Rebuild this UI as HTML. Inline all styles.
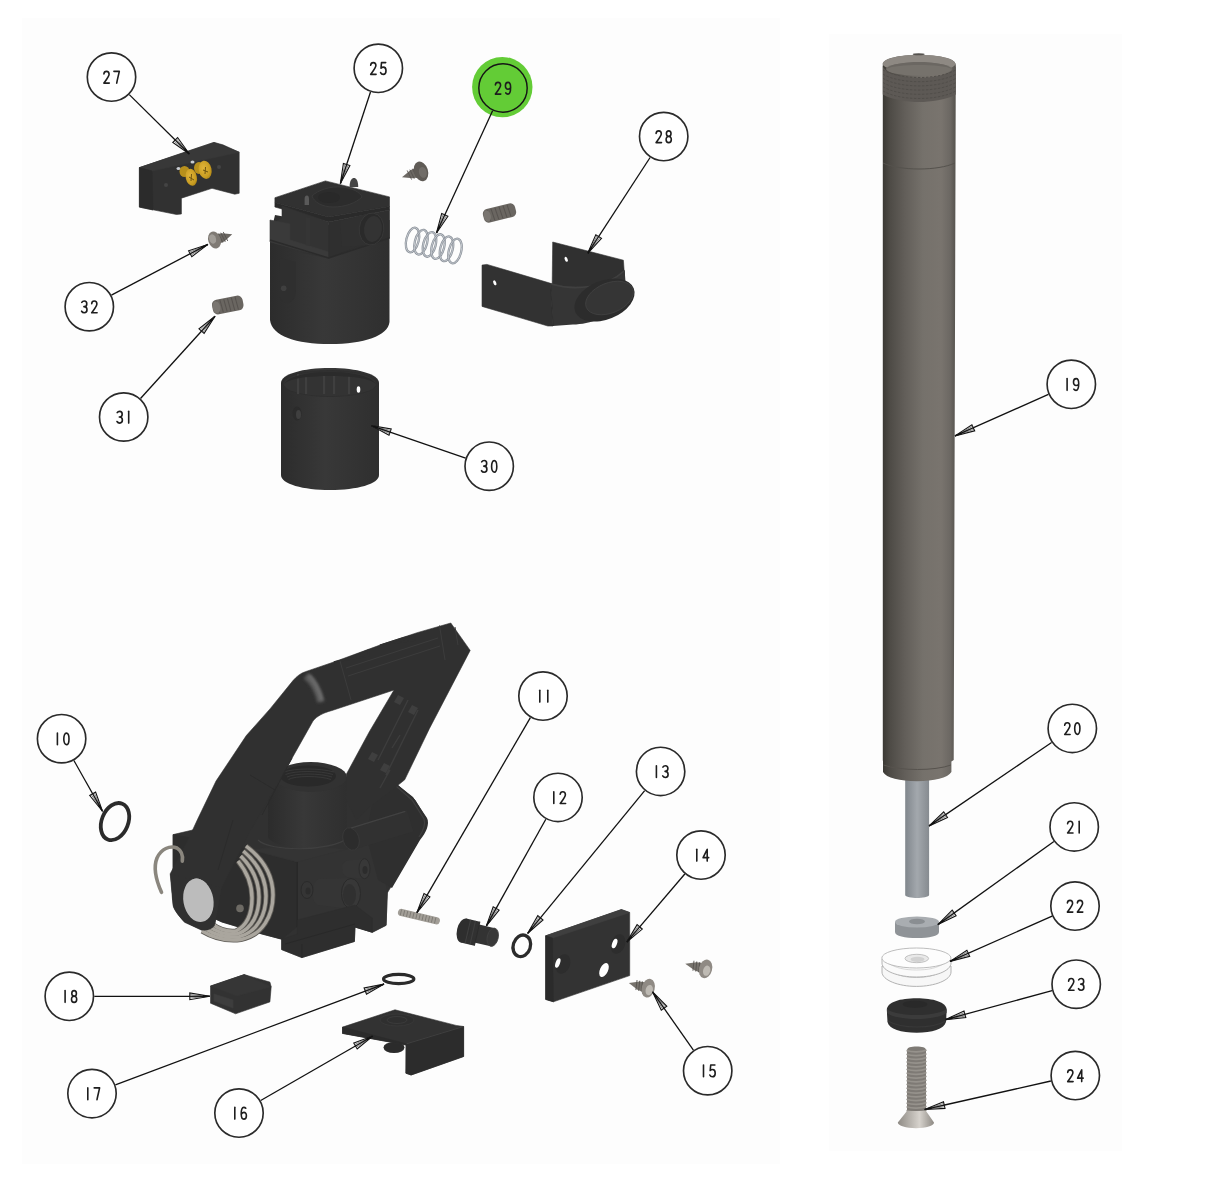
<!DOCTYPE html>
<html><head><meta charset="utf-8"><style>
html,body{margin:0;padding:0;background:#fff;width:1214px;height:1185px;overflow:hidden;font-family:"Liberation Sans",sans-serif;}
svg{display:block;filter:blur(0.35px)}
</style></head><body>
<svg width="1214" height="1185" viewBox="0 0 1214 1185">
<rect x="0" y="0" width="1214" height="1185" fill="#fff"/>
<rect x="22" y="18" width="758" height="1146" fill="#fdfdfd"/>
<rect x="829" y="34" width="293" height="1117" fill="#fdfdfd"/>
<defs><filter id="blr" x="-50%" y="-50%" width="200%" height="200%"><feGaussianBlur stdDeviation="1.8"/></filter><radialGradient id="gold" cx="0.4" cy="0.4" r="0.7"><stop offset="0" stop-color="#e2b53a"/><stop offset="0.7" stop-color="#c99d22"/><stop offset="1" stop-color="#a47d12"/></radialGradient><linearGradient id="dg" x1="0" x2="1"><stop offset="0" stop-color="#2c2c2c"/><stop offset="0.45" stop-color="#383838"/><stop offset="1" stop-color="#2f2f2f"/></linearGradient><linearGradient id="hl" x1="0" y1="0" x2="1" y2="0.3"><stop offset="0" stop-color="#303030"/><stop offset="0.5" stop-color="#6a6a6a"/><stop offset="1" stop-color="#303030"/></linearGradient><linearGradient id="tg" x1="0" x2="1"><stop offset="0" stop-color="#3b3934"/><stop offset="0.1" stop-color="#4e4b46"/><stop offset="0.3" stop-color="#625e59"/><stop offset="0.55" stop-color="#75716b"/><stop offset="0.8" stop-color="#79746e"/><stop offset="0.93" stop-color="#6b6762"/><stop offset="1" stop-color="#55524d"/></linearGradient><linearGradient id="rg" x1="0" x2="1"><stop offset="0" stop-color="#80868c"/><stop offset="0.5" stop-color="#a3a8ad"/><stop offset="1" stop-color="#868b90"/></linearGradient><linearGradient id="hg24" x1="0" x2="1"><stop offset="0" stop-color="#8f8b85"/><stop offset="0.6" stop-color="#d6d2cc"/><stop offset="1" stop-color="#8e8a84"/></linearGradient><linearGradient id="bg24" x1="0" x2="1"><stop offset="0" stop-color="#7a7672"/><stop offset="0.5" stop-color="#a29e98"/><stop offset="1" stop-color="#77736e"/></linearGradient></defs><path d="M139.4 167.6L214.0 142.4L222.9 144.8L239.2 152.2L239.2 193.3L234.8 194.2L212.0 188.3L181.4 198.2L181.4 214.0L176.5 214.5L139.4 207.1Z" fill="#313131" stroke="#313131" stroke-width="0.6" /><path d="M139.4 167.6L214.0 142.4L239.2 152.2L152.0 171.0Z" fill="#383838" stroke="#383838" stroke-width="0.6" /><path d="M139.4 167.6L152.0 171.0L153.0 210.0L139.4 207.1Z" fill="#2b2b2b" stroke="#2b2b2b" stroke-width="0.6" /><ellipse cx="178.5" cy="168.5" rx="2" ry="1.6" fill="#c8ccd2"/><ellipse cx="192.5" cy="162" rx="2" ry="1.6" fill="#c8ccd2"/><ellipse cx="184.5" cy="171.5" rx="5" ry="5.5" fill="#b8901c"/><ellipse cx="191.3" cy="177.3" rx="5.6" ry="8.6" transform="rotate(-12 191.3 177.3)" fill="url(#gold)"/><ellipse cx="199" cy="168" rx="5" ry="6" fill="#b8901c"/><ellipse cx="205.2" cy="169.8" rx="6.4" ry="9.2" transform="rotate(-12 205.2 169.8)" fill="url(#gold)"/><path d="M189 177 L194 180 M191.5 174 L191 181 M203 170 L208 172 M205.5 167 L205 174" stroke="#6e5510" stroke-width="1"/><circle cx="166" cy="185" r="2" fill="#444"/><circle cx="219" cy="167" r="2" fill="#444"/><path d="M270 236 L270 320 C272 336 296 344 330 344 C364 344 388 336 389.5 322 L389.5 220 L330 225 L275 215Z" fill="url(#dg)"/><path d="M274.9 197.7L325.4 180.9L389.5 196.9L389.5 206.5L328.6 217.0L274.9 202.5Z" fill="#313131" stroke="#313131" stroke-width="0.6" /><path d="M274.9 202.5L328.6 217.0L389.5 206.5L389.5 210.0L328.6 222.0L274.9 207.0Z" fill="#2a2a2a" stroke="#2a2a2a" stroke-width="0.6" /><path d="M282.0 206.0L328.6 222.0L328.6 258.0L300.0 252.0L275.0 242.0L275.0 222.0L282.0 218.0Z" fill="#333333" stroke="#333333" stroke-width="0.6" /><path d="M270.0 220.0L290.0 224.0L290.0 240.0L328.6 252.0L328.6 258.0L270.0 242.0Z" fill="#3a3a3a" stroke="#3a3a3a" stroke-width="0.6" /><path d="M328.6 222.0L389.5 210.0L389.5 238.0L355.0 248.0L328.6 258.0Z" fill="#2f2f2f" stroke="#2f2f2f" stroke-width="0.6" /><path d="M270 240 L328.6 258 L389.5 238" fill="none" stroke="#2b2b2b" stroke-width="1.5"/><path d="M312 196 C318 190 330 186 342 187 C352 188 360 192 362 197 C356 203 345 207 333 207 C322 207 314 202 312 196Z" fill="#2c2c2c" stroke="#3a3a3a" stroke-width="0.9"/><ellipse cx="329" cy="197.5" rx="11" ry="5.5" fill="#292929"/><path d="M349.6 187 C349.6 180 352 178 354 178 C356 178 358.2 180 358.2 187Z" fill="#454545"/><path d="M304.6 205 L304.6 199 C304.6 196 306 195.5 307 195.5 C308 195.5 309 196 309 199 L309 205Z" fill="#5a5a5a"/><path d="M340 221 L370 213 L372 245 L342 247Z" fill="#303030"/><path d="M305.7 217 L310 218 L310 246 L305.7 245Z" fill="#353535"/><ellipse cx="371.5" cy="229" rx="12.3" ry="16" transform="rotate(6 371.5 229)" fill="#2a2a2a" stroke="#3a3a3a" stroke-width="0.8"/><ellipse cx="373" cy="229" rx="9" ry="13" transform="rotate(6 373 229)" fill="#333"/><path d="M280 258 L296 262 L296 290 C296 300 290 304 284 302 C280 300 279 296 279 290Z" fill="#2f2f2f"/><circle cx="283.7" cy="288.3" r="2.8" fill="#3f3f3f"/><g transform="translate(421 171.4) rotate(162.7)"><path d="M0 -5.5 L9.9 -4.2 L19.9 0 L9.9 4.2 L0 5.5Z" fill="#6d6964"/><line x1="3.0" y1="-5" x2="4.5" y2="5" stroke="#55524e" stroke-width="0.8"/><line x1="5.8" y1="-5" x2="7.3" y2="5" stroke="#55524e" stroke-width="0.8"/><line x1="8.6" y1="-5" x2="10.1" y2="5" stroke="#55524e" stroke-width="0.8"/><line x1="11.4" y1="-5" x2="12.9" y2="5" stroke="#55524e" stroke-width="0.8"/><ellipse cx="0" cy="0" rx="7.0" ry="10.0" fill="#5f5b56"/><ellipse cx="-1.5" cy="-1.5" rx="3.9" ry="5.5" fill="#76726d" opacity="0.8"/></g><g transform="translate(214.5 240) rotate(-17.9)"><path d="M0 -5.5 L9.3 -4.2 L18.6 0 L9.3 4.2 L0 5.5Z" fill="#6a6661"/><line x1="3.0" y1="-5" x2="4.5" y2="5" stroke="#55524e" stroke-width="0.8"/><line x1="5.6" y1="-5" x2="7.1" y2="5" stroke="#55524e" stroke-width="0.8"/><line x1="8.2" y1="-5" x2="9.7" y2="5" stroke="#55524e" stroke-width="0.8"/><line x1="10.8" y1="-5" x2="12.3" y2="5" stroke="#55524e" stroke-width="0.8"/><ellipse cx="0" cy="0" rx="6.2" ry="8.8" fill="#7f7a74"/><ellipse cx="-1.5" cy="-1.5" rx="3.4" ry="4.8" fill="#aaa6a0" opacity="0.8"/></g><g transform="translate(648.2 988.2) rotate(-164.9)"><path d="M0 -5.5 L10.0 -4.2 L20.0 0 L10.0 4.2 L0 5.5Z" fill="#76726c"/><line x1="3.0" y1="-5" x2="4.5" y2="5" stroke="#55524e" stroke-width="0.8"/><line x1="5.8" y1="-5" x2="7.3" y2="5" stroke="#55524e" stroke-width="0.8"/><line x1="8.6" y1="-5" x2="10.1" y2="5" stroke="#55524e" stroke-width="0.8"/><line x1="11.4" y1="-5" x2="12.9" y2="5" stroke="#55524e" stroke-width="0.8"/><ellipse cx="0" cy="0" rx="6.5" ry="9.5" fill="#8f8a84"/><ellipse cx="-1.5" cy="-1.5" rx="3.6" ry="5.2" fill="#c9c5bf" opacity="0.8"/></g><g transform="translate(705.6 968.9) rotate(-165.6)"><path d="M0 -5.5 L10.5 -4.2 L21.0 0 L10.5 4.2 L0 5.5Z" fill="#76726c"/><line x1="3.0" y1="-5" x2="4.5" y2="5" stroke="#55524e" stroke-width="0.8"/><line x1="5.9" y1="-5" x2="7.4" y2="5" stroke="#55524e" stroke-width="0.8"/><line x1="8.9" y1="-5" x2="10.4" y2="5" stroke="#55524e" stroke-width="0.8"/><line x1="11.8" y1="-5" x2="13.3" y2="5" stroke="#55524e" stroke-width="0.8"/><ellipse cx="0" cy="0" rx="6.5" ry="9.5" fill="#8f8a84"/><ellipse cx="-1.5" cy="-1.5" rx="3.6" ry="5.2" fill="#c9c5bf" opacity="0.8"/></g><g transform="translate(212.5 308) rotate(-11.1)"><rect x="0" y="-7.5" width="31.1" height="15.0" rx="5.2" fill="#6a6661"/><line x1="5.0" y1="-6.5" x2="6.0" y2="6.5" stroke="#57534f" stroke-width="1"/><line x1="8.8" y1="-6.5" x2="9.8" y2="6.5" stroke="#57534f" stroke-width="1"/><line x1="12.7" y1="-6.5" x2="13.7" y2="6.5" stroke="#57534f" stroke-width="1"/><line x1="16.5" y1="-6.5" x2="17.5" y2="6.5" stroke="#57534f" stroke-width="1"/><line x1="20.4" y1="-6.5" x2="21.4" y2="6.5" stroke="#57534f" stroke-width="1"/><line x1="24.2" y1="-6.5" x2="25.2" y2="6.5" stroke="#57534f" stroke-width="1"/><ellipse cx="4.1" cy="0" rx="3.8" ry="6.0" fill="#7a7671"/></g><g transform="translate(483.5 217) rotate(-14.0)"><rect x="0" y="-7" width="33.0" height="14" rx="4.9" fill="#6a6661"/><line x1="5.0" y1="-6" x2="6.0" y2="6" stroke="#57534f" stroke-width="1"/><line x1="9.2" y1="-6" x2="10.2" y2="6" stroke="#57534f" stroke-width="1"/><line x1="13.3" y1="-6" x2="14.3" y2="6" stroke="#57534f" stroke-width="1"/><line x1="17.5" y1="-6" x2="18.5" y2="6" stroke="#57534f" stroke-width="1"/><line x1="21.7" y1="-6" x2="22.7" y2="6" stroke="#57534f" stroke-width="1"/><line x1="25.8" y1="-6" x2="26.8" y2="6" stroke="#57534f" stroke-width="1"/><ellipse cx="3.9" cy="0" rx="3.5" ry="5.6" fill="#7a7671"/></g><ellipse cx="412.5" cy="240.0" rx="6.2" ry="12.6" transform="rotate(14 412.5 240.0)" fill="none" stroke="#8d939b" stroke-width="2.3"/><ellipse cx="412.5" cy="240.0" rx="6.2" ry="12.6" transform="rotate(14 412.5 240.0)" fill="none" stroke="#c3c8ce" stroke-width="0.9"/><ellipse cx="421.0" cy="242.2" rx="6.2" ry="12.6" transform="rotate(14 421.0 242.2)" fill="none" stroke="#8d939b" stroke-width="2.3"/><ellipse cx="421.0" cy="242.2" rx="6.2" ry="12.6" transform="rotate(14 421.0 242.2)" fill="none" stroke="#c3c8ce" stroke-width="0.9"/><ellipse cx="429.5" cy="244.4" rx="6.2" ry="12.6" transform="rotate(14 429.5 244.4)" fill="none" stroke="#8d939b" stroke-width="2.3"/><ellipse cx="429.5" cy="244.4" rx="6.2" ry="12.6" transform="rotate(14 429.5 244.4)" fill="none" stroke="#c3c8ce" stroke-width="0.9"/><ellipse cx="438.0" cy="246.6" rx="6.2" ry="12.6" transform="rotate(14 438.0 246.6)" fill="none" stroke="#8d939b" stroke-width="2.3"/><ellipse cx="438.0" cy="246.6" rx="6.2" ry="12.6" transform="rotate(14 438.0 246.6)" fill="none" stroke="#c3c8ce" stroke-width="0.9"/><ellipse cx="446.5" cy="248.8" rx="6.2" ry="12.6" transform="rotate(14 446.5 248.8)" fill="none" stroke="#8d939b" stroke-width="2.3"/><ellipse cx="446.5" cy="248.8" rx="6.2" ry="12.6" transform="rotate(14 446.5 248.8)" fill="none" stroke="#c3c8ce" stroke-width="0.9"/><ellipse cx="455.0" cy="251.0" rx="6.2" ry="12.6" transform="rotate(14 455.0 251.0)" fill="none" stroke="#8d939b" stroke-width="2.3"/><ellipse cx="455.0" cy="251.0" rx="6.2" ry="12.6" transform="rotate(14 455.0 251.0)" fill="none" stroke="#c3c8ce" stroke-width="0.9"/><path d="M552.7 242.0L623.4 260.2L624.8 279.8L624.8 300.0L552.0 300.0Z" fill="#303030" stroke="#303030" stroke-width="0.6" /><path d="M482.0 265.1L486.9 264.4L550.6 283.3L553.0 326.0L547.8 326.0L482.0 306.4Z" fill="#323232" stroke="#323232" stroke-width="0.6" /><path d="M550.6 283.3 C575 290 605 287 624.8 270 L626 300 C610 318 590 324 573 324.6 L553 326Z" fill="#353535"/><path d="M551 284 C575 291 606 288 624 271" fill="none" stroke="#404040" stroke-width="1.6"/><path d="M550.6 283.3 L553 326" stroke="#2a2a2a" stroke-width="0.8"/><ellipse cx="604.5" cy="300.1" rx="31.5" ry="19.4" transform="rotate(-22 604.5 300.1)" fill="#2c2c2c"/><ellipse cx="609.5" cy="298" rx="25" ry="15" transform="rotate(-22 609.5 298)" fill="#353535" stroke="#414141" stroke-width="0.8"/><ellipse cx="494.8" cy="282.8" rx="1.4" ry="2.6" transform="rotate(-25 494.8 282.8)" fill="#fff"/><ellipse cx="566.2" cy="259.3" rx="1.4" ry="2.6" transform="rotate(-25 566.2 259.3)" fill="#fff"/><path d="M281 383 L281 475 C281 484 303 490 330 490 C357 490 379 484 379 475 L379 383 C379 374 357 368 330 368 C303 368 281 374 281 383Z" fill="url(#dg)"/><ellipse cx="330" cy="383.5" rx="47" ry="13.5" fill="#2f2f2f"/><path d="M284 384 C284 376 305 371.5 330 371.5 C355 371.5 376 376 376 384 C376 390 360 396 330 396 C300 396 284 390 284 384Z" fill="#333333"/><rect x="297" y="374" width="2.2" height="20" fill="#3f3f3f"/><rect x="305" y="374" width="2.2" height="20" fill="#3f3f3f"/><rect x="323" y="374" width="2.2" height="20" fill="#3f3f3f"/><rect x="333" y="374" width="2.2" height="20" fill="#3f3f3f"/><rect x="348" y="374" width="2.2" height="20" fill="#3f3f3f"/><path d="M284 384 C290 375 310 372 330 372 C350 372 370 375 376 384 C370 378 350 376 330 376 C310 376 290 378 284 384Z" fill="#2b2b2b"/><ellipse cx="358.5" cy="389.5" rx="1.8" ry="3.2" fill="#fff"/><ellipse cx="297" cy="413.5" rx="4.5" ry="7" fill="#2b2b2b"/><ellipse cx="298.5" cy="414.5" rx="2.5" ry="4.5" fill="#3f3f3f"/><path d="M905.2 776 L905.2 895 C905.2 897 912 898 917 898 C922 898 929.1 897 929.1 895 L929.1 776Z" fill="url(#rg)"/><path d="M882.8 65 L882.8 760 L883 761.6 L883 772 C886 778 900 781.2 917 781.2 C934 781.2 948 778 951.4 772 L951.4 761.6 L953.7 760 L955.8 65 C955.8 58 938 55 919 55 C900 55 882.8 58 882.8 65Z" fill="url(#tg)"/><path d="M882.8 66 C886 74 902 78 919 78 C936 78 952 74 955.8 66 L955.8 94.5 C946 100 930 102 919 102 C908 102 892 100 882.8 94.5Z" fill="#5d5955"/><path d="M883.0 70.0 C900 80.0 938 80.0 955.8 70.0" fill="none" stroke="#514e4a" stroke-width="1" stroke-dasharray="2.5 1.5"/><path d="M883.0 74.2 C900 84.2 938 84.2 955.8 74.2" fill="none" stroke="#514e4a" stroke-width="1" stroke-dasharray="2.5 1.5"/><path d="M883.0 78.4 C900 88.4 938 88.4 955.8 78.4" fill="none" stroke="#514e4a" stroke-width="1" stroke-dasharray="2.5 1.5"/><path d="M883.0 82.6 C900 92.6 938 92.6 955.8 82.6" fill="none" stroke="#514e4a" stroke-width="1" stroke-dasharray="2.5 1.5"/><path d="M883.0 86.8 C900 96.8 938 96.8 955.8 86.8" fill="none" stroke="#514e4a" stroke-width="1" stroke-dasharray="2.5 1.5"/><path d="M883.0 91.0 C900 101.0 938 101.0 955.8 91.0" fill="none" stroke="#514e4a" stroke-width="1" stroke-dasharray="2.5 1.5"/><ellipse cx="919" cy="63.7" rx="36.4" ry="8.8" fill="#8e8983"/><ellipse cx="919" cy="69" rx="33" ry="6.8" fill="#76726c"/><path d="M886 69 C890 64 905 62 919 62 C933 62 948 64 952 69 C946 66 934 65 919 65 C904 65 892 66 886 69Z" fill="#6b6762"/><ellipse cx="918.7" cy="54.3" rx="6" ry="1" fill="#55524e"/><path d="M883 163 C900 171 938 171 955 163" fill="none" stroke="#55524d" stroke-width="1"/><path d="M883.5 765 C900 771 935 771 951 765" fill="none" stroke="#57534e" stroke-width="1"/><path d="M895 922 L895 932 C895 936 905 938 917 938 C929 938 939 936 939 932 L939 922Z" fill="#8f9397"/><ellipse cx="917" cy="922" rx="22" ry="5.6" fill="#a9adb1"/><ellipse cx="917" cy="921.5" rx="8" ry="2.8" fill="#8a8e92"/><path d="M882 972 C882 980 898 986.4 916.4 986.4 C935 986.4 951 980 951 972 L951 966 L882 966Z" fill="#f7f7f7" stroke="#a9a9a9" stroke-width="0.9"/><path d="M888.5 969 C895 975 905 977.5 916.4 977.5 C928 977.5 938 975 944.2 969" fill="none" stroke="#c4c4c4" stroke-width="0.9"/><path d="M882 959 L882 963 C882 971 898 977 916.4 977 C935 977 951 971 951 963 L951 959Z" fill="#fafafa" stroke="#ababab" stroke-width="0.9"/><path d="M888.5 963 C895 968 905 970 916.4 970 C928 970 938 968 944.2 963" fill="none" stroke="#cfcfcf" stroke-width="0.8"/><ellipse cx="916.4" cy="958" rx="34.6" ry="10" fill="#fdfdfd" stroke="#b5b5b5" stroke-width="0.9"/><ellipse cx="916.8" cy="958.5" rx="11.8" ry="4.2" fill="#e9e9e9" stroke="#b5b5b5" stroke-width="0.8"/><ellipse cx="917.5" cy="959.3" rx="7" ry="2.6" fill="#d2d2d2"/><path d="M886.8 1010 C886.8 1002 900 998.2 916.7 998.2 C933 998.2 946.7 1002 946.7 1010 L946 1022 C944 1029 932 1032.8 916.7 1032.8 C901 1032.8 889 1029 887.5 1022Z" fill="#2f2f2f"/><path d="M887 1009 C892 1013 905 1015 916.7 1015 C928 1015 941 1013 946.5 1009 L946.5 1013 C941 1017 928 1019 916.7 1019 C905 1019 892 1017 887 1013Z" fill="#3b3b3b"/><path d="M888 1021 C895 1025 905 1027 916.7 1027 C928 1027 939 1025 945.5 1021" fill="none" stroke="#383838" stroke-width="1.2"/><ellipse cx="915" cy="1004.2" rx="12.3" ry="3.5" fill="#292929"/><path d="M907 1050 C907 1047.5 911 1046.5 916.5 1046.5 C922 1046.5 926 1047.5 926 1050 L926 1113 L907 1113Z" fill="#7e7a75"/><path d="M906.5 1050.50 C912 1052.50 921 1052.50 926.5 1050.00" fill="none" stroke="#96928c" stroke-width="1.7"/><path d="M906.5 1054.25 C912 1056.25 921 1056.25 926.5 1053.75" fill="none" stroke="#96928c" stroke-width="1.7"/><path d="M906.5 1058.00 C912 1060.00 921 1060.00 926.5 1057.50" fill="none" stroke="#96928c" stroke-width="1.7"/><path d="M906.5 1061.75 C912 1063.75 921 1063.75 926.5 1061.25" fill="none" stroke="#96928c" stroke-width="1.7"/><path d="M906.5 1065.50 C912 1067.50 921 1067.50 926.5 1065.00" fill="none" stroke="#96928c" stroke-width="1.7"/><path d="M906.5 1069.25 C912 1071.25 921 1071.25 926.5 1068.75" fill="none" stroke="#96928c" stroke-width="1.7"/><path d="M906.5 1073.00 C912 1075.00 921 1075.00 926.5 1072.50" fill="none" stroke="#96928c" stroke-width="1.7"/><path d="M906.5 1076.75 C912 1078.75 921 1078.75 926.5 1076.25" fill="none" stroke="#96928c" stroke-width="1.7"/><path d="M906.5 1080.50 C912 1082.50 921 1082.50 926.5 1080.00" fill="none" stroke="#96928c" stroke-width="1.7"/><path d="M906.5 1084.25 C912 1086.25 921 1086.25 926.5 1083.75" fill="none" stroke="#96928c" stroke-width="1.7"/><path d="M906.5 1088.00 C912 1090.00 921 1090.00 926.5 1087.50" fill="none" stroke="#96928c" stroke-width="1.7"/><path d="M906.5 1091.75 C912 1093.75 921 1093.75 926.5 1091.25" fill="none" stroke="#96928c" stroke-width="1.7"/><path d="M906.5 1095.50 C912 1097.50 921 1097.50 926.5 1095.00" fill="none" stroke="#96928c" stroke-width="1.7"/><path d="M906.5 1099.25 C912 1101.25 921 1101.25 926.5 1098.75" fill="none" stroke="#96928c" stroke-width="1.7"/><path d="M906.5 1103.00 C912 1105.00 921 1105.00 926.5 1102.50" fill="none" stroke="#96928c" stroke-width="1.7"/><path d="M906.5 1106.75 C912 1108.75 921 1108.75 926.5 1106.25" fill="none" stroke="#96928c" stroke-width="1.7"/><path d="M906.5 1110.50 C912 1112.50 921 1112.50 926.5 1110.00" fill="none" stroke="#96928c" stroke-width="1.7"/><path d="M907 1111 L926 1111 L934 1122.6 C934 1126 926 1128.2 916 1128.2 C906 1128.2 898 1126 897.8 1122.6Z" fill="url(#hg24)"/><ellipse cx="115" cy="821.6" rx="13.2" ry="19.3" transform="rotate(22 115 821.6)" fill="none" stroke="#2b2b2b" stroke-width="3.8"/><ellipse cx="521.8" cy="945.8" rx="8.6" ry="11" transform="rotate(18 521.8 945.8)" fill="none" stroke="#2b2b2b" stroke-width="3.3"/><ellipse cx="398.7" cy="979" rx="15.2" ry="4.6" fill="none" stroke="#2b2b2b" stroke-width="3.1"/><g transform="translate(398 911.7) rotate(13.3)"><rect x="0" y="-3.6" width="43" height="7.2" rx="3.6" fill="#a29e97"/><line x1="3.0" y1="-3" x2="3.0" y2="3" stroke="#7d7a74" stroke-width="0.9"/><line x1="6.2" y1="-3" x2="6.2" y2="3" stroke="#7d7a74" stroke-width="0.9"/><line x1="9.4" y1="-3" x2="9.4" y2="3" stroke="#7d7a74" stroke-width="0.9"/><line x1="12.6" y1="-3" x2="12.6" y2="3" stroke="#7d7a74" stroke-width="0.9"/><line x1="15.8" y1="-3" x2="15.8" y2="3" stroke="#7d7a74" stroke-width="0.9"/><line x1="19.0" y1="-3" x2="19.0" y2="3" stroke="#7d7a74" stroke-width="0.9"/><line x1="22.2" y1="-3" x2="22.2" y2="3" stroke="#7d7a74" stroke-width="0.9"/><line x1="25.4" y1="-3" x2="25.4" y2="3" stroke="#7d7a74" stroke-width="0.9"/><line x1="28.6" y1="-3" x2="28.6" y2="3" stroke="#7d7a74" stroke-width="0.9"/><line x1="31.8" y1="-3" x2="31.8" y2="3" stroke="#7d7a74" stroke-width="0.9"/><line x1="35.0" y1="-3" x2="35.0" y2="3" stroke="#7d7a74" stroke-width="0.9"/><line x1="38.2" y1="-3" x2="38.2" y2="3" stroke="#7d7a74" stroke-width="0.9"/></g><g transform="translate(463.5 930.5) rotate(13)"><rect x="0" y="-12.3" width="14" height="24.6" fill="#313131"/><ellipse cx="0" cy="0" rx="6.5" ry="12.3" fill="#2e2e2e"/><path d="M4.5 -12 L4.5 12 M9.5 -12 L9.5 12" stroke="#3f3f3f" stroke-width="1.1"/><rect x="13" y="-9.3" width="17" height="18.6" fill="#333333"/><path d="M14 -12.3 L14 12.3" stroke="#2b2b2b" stroke-width="1"/><ellipse cx="30" cy="0" rx="5.5" ry="9.3" fill="#383838" stroke="#424242" stroke-width="0.8"/></g><path d="M545.7 935.8L621.4 909.6L629.7 912.5L629.7 975.6L553.4 1001.8L545.7 999.4Z" fill="#333333" stroke="#333333" stroke-width="0.6" /><path d="M545.7 935.8L621.4 909.6L629.7 912.5L552.5 938.0Z" fill="#3f3f3f" stroke="#3f3f3f" stroke-width="0.6" /><path d="M545.7 935.8L552.5 938.0L553.4 1001.8L545.7 999.4Z" fill="#2b2b2b" stroke="#2b2b2b" stroke-width="0.6" /><ellipse cx="563" cy="964" rx="7" ry="10" transform="rotate(20 563 964)" fill="#2d2d2d"/><ellipse cx="557.8" cy="963" rx="2.2" ry="5" transform="rotate(20 557.8 963)" fill="#fff"/><ellipse cx="604" cy="970" rx="4" ry="7.5" transform="rotate(25 604 970)" fill="#fff"/><ellipse cx="618" cy="944" rx="7" ry="10" transform="rotate(20 618 944)" fill="#2d2d2d"/><ellipse cx="614.6" cy="943.5" rx="2.4" ry="5" transform="rotate(20 614.6 943.5)" fill="#fff"/><path d="M210.5 986.1L244.2 974.6L269.9 982.1L271.2 986.7L269.9 1001.9L235.6 1013.8L210.5 1003.2Z" fill="#323232" stroke="#323232" stroke-width="0.6" /><path d="M210.5 986.1L244.2 974.6L271.2 986.7L237.0 996.0Z" fill="#363636" stroke="#363636" stroke-width="0.6" /><path d="M214.0 994.0L233.0 1000.0L233.0 1008.0L214.0 1001.0Z" fill="#3d3d3d" stroke="#3d3d3d" stroke-width="0.6" /><ellipse cx="394" cy="1047.5" rx="10.5" ry="5.5" fill="#2b2b2b"/><path d="M342.5 1027.1L395.0 1009.8L456.1 1025.4L463.6 1026.5L463.6 1056.5L411.1 1075.0L405.9 1073.2L405.9 1045.0L342.5 1033.4Z" fill="#323232" stroke="#323232" stroke-width="0.6" /><path d="M342.5 1027.1L406.5 1043.8L406.5 1045.0L342.5 1033.4Z" fill="#2b2b2b" stroke="#2b2b2b" stroke-width="0.6" /><path d="M406.5 1043.8L463.6 1026.5L463.6 1056.5L411.1 1075.0L405.9 1073.2Z" fill="#2c2c2c" stroke="#2c2c2c" stroke-width="0.6" /><path d="M406.5 1043.8 L463.6 1026.5" stroke="#3f3f3f" stroke-width="1"/><ellipse cx="397" cy="1020" rx="17" ry="6" fill="#2f2f2f" stroke="#383838" stroke-width="1"/><ellipse cx="397" cy="1020" rx="10" ry="3.5" fill="none" stroke="#3b3b3b" stroke-width="1"/><path d="M173.1 834.6L192.7 830.0L262.0 800.0L275.0 785.0L300.0 790.0L394.0 782.0L415.0 800.0L427.0 820.0L419.0 840.0L387.3 893.0L386.1 925.3L372.3 932.3L355.0 927.0L354.4 941.5L301.9 957.6L281.7 949.6L281.7 939.2L262.0 934.0L222.0 922.0L173.1 900.0Z" fill="#313131" stroke="#313131" stroke-width="0.6" /><path d="M173.1 834.6L250.0 849.6L297.3 862.0L297.3 926.5L281.7 939.2L262.0 934.0L222.0 922.0L173.1 900.0Z" fill="#2d2d2d" stroke="#2d2d2d" stroke-width="0.6" /><path d="M250.0 849.6L297.3 862.0L345.5 849.6L297.0 845.0Z" fill="#343434" stroke="#343434" stroke-width="0.6" /><path d="M297.3 862.0L345.5 849.6L380.0 840.0L387.3 893.0L386.1 925.3L372.3 932.3L355.0 927.0L297.3 926.5Z" fill="#333333" stroke="#333333" stroke-width="0.6" /><path d="M297.3 862 L297.3 926.5" stroke="#272727" stroke-width="1"/><path d="M319 879 L350 878 C357 878 361 886 361 894 C361 903 357 909 350 909 L318 905 C313 902 312 896 313 889 C314 883 316 880 319 879Z" fill="#353535"/><ellipse cx="351" cy="893.5" rx="9.5" ry="15" fill="#383838" stroke="#2a2a2a" stroke-width="1"/><ellipse cx="349.5" cy="895" rx="6.5" ry="11" fill="#303030"/><path d="M346 861 L364 858.5 C368 858.5 371 863 371 868.5 C371 874 368 879 364 879 L347 877 C343 875 342 871 342 867 C342 864 344 862 346 861Z" fill="#353535"/><ellipse cx="364.5" cy="868.7" rx="5.5" ry="10" fill="#383838" stroke="#2a2a2a" stroke-width="0.8"/><ellipse cx="365" cy="870" rx="2.5" ry="4" fill="#2c2c2c"/><ellipse cx="307" cy="890" rx="6" ry="8.5" fill="#353535" stroke="#2a2a2a" stroke-width="1"/><ellipse cx="308" cy="891" rx="2.5" ry="3.5" fill="#2c2c2c"/><path d="M297.3 920.0L355.0 905.0L372.3 918.0L372.3 932.3L355.0 927.0L354.4 941.5L301.9 957.6L281.7 949.6L281.7 939.2L297.3 934.0Z" fill="#2e2e2e" stroke="#2e2e2e" stroke-width="0.6" /><path d="M285 944 L355 924 M301.9 957.6 L301.9 944" stroke="#282828" stroke-width="1"/><path d="M268 777 L268 838 C275 846 292 849 308 849 C325 849 340 846 347 838 L347 777Z" fill="url(#dg)"/><path d="M258 840 C270 852 330 852 348 838" fill="none" stroke="#3f3f3f" stroke-width="1.2"/><ellipse cx="310.6" cy="777" rx="36.3" ry="15" fill="#323232"/><ellipse cx="308" cy="776" rx="28" ry="10.5" fill="#292929"/><path d="M284.0 772.0 C295 768.0 320 768.0 334 772.0" fill="none" stroke="#3f3f3f" stroke-width="0.7"/><path d="M285.5 774.5 C295 770.5 320 770.5 333 774.5" fill="none" stroke="#3f3f3f" stroke-width="0.7"/><path d="M287.0 777.0 C295 773.0 320 773.0 332 777.0" fill="none" stroke="#3f3f3f" stroke-width="0.7"/><path d="M288.5 779.5 C295 775.5 320 775.5 331 779.5" fill="none" stroke="#3f3f3f" stroke-width="0.7"/><path d="M394 782 L413 797 L427 818 C430 824 426 833 420 840 L392 888 L378 880 L366 835 L372 805Z" fill="#2f2f2f"/><path d="M396 786 L412 800 L424 819 C426 825 423 831 419 837" fill="none" stroke="#3f3f3f" stroke-width="1.2"/><g transform="translate(351 839) rotate(-17)"><rect x="0" y="-11" width="62" height="22" fill="#313131"/><path d="M3 -10.5 L60 -10.5" stroke="#424242" stroke-width="1.2"/><ellipse cx="0" cy="0" rx="8" ry="11.5" fill="#2c2c2c" stroke="#3a3a3a" stroke-width="0.8"/></g><path d="M450.8 623 L470.2 650.4 L429.5 728.4 L404.7 779.8 L392 790 L372 805 L356 820 L346.5 800 L346.2 774.5 L369.2 732 L394 690 L332 710.5 C323 713 317 716 313 721 L291.9 758.4 L270.6 796.3 L250.9 829.8 L233 864.6 L221.5 887.7 L214.6 925.7 C212 929 207 931 201.9 930.3 L184.6 922.3 C178 915 174 910 173 905 L170.2 873.8 L187.1 841.9 L197.7 819.1 L216 781.1 L246.3 735.6 L270 708.9 L293 680.6 C297 676 301 673 305.4 671.7 L333.8 662 L379.9 645.1 L417.1 632.7Z" fill="#303030" stroke="#303030" stroke-width="0.6"/><path d="M333.8 662 L344.8 659.5 L368.3 650 L368.3 656Z M379.9 645.1 L402.7 638 L415.2 634.8 L415 640Z" fill="#303030" stroke="#303030" stroke-width="1.5"/><path d="M306 676 C313 681 318 690 321 702" fill="none" stroke="#5c5c5c" stroke-width="7" filter="url(#blr)"/><path d="M309 675 C315 681 319 689 322 700" fill="none" stroke="#777" stroke-width="2" filter="url(#blr)"/><path d="M346 668 L438 638 M348 676 L440 646 M340 661 L351 700 M439.5 625.5 L445 660 M455 627 L458 645" fill="none" stroke="#3c3c3c" stroke-width="1"/><path d="M250 775 L275 790 M233 820 L218 870 M292 758 L262 815" fill="none" stroke="#2b2b2b" stroke-width="1"/><path d="M394 702 L398 695 L404 698 L400 705Z" fill="#3f3f3f"/><path d="M408 712 L412 705 L418 708 L414 715Z" fill="#3f3f3f"/><path d="M368 759 L372 752 L378 755 L374 762Z" fill="#3f3f3f"/><path d="M380 770 L384 763 L390 766 L386 773Z" fill="#3f3f3f"/><path d="M408 700 L378 760 M418 710 L386 775 M400 735 L392 748 M390 770 L380 788" fill="none" stroke="#3d3d3d" stroke-width="1.4"/><ellipse cx="198.4" cy="900.3" rx="15" ry="21.9" transform="rotate(-10 198.4 900.3)" fill="#bcbcbc"/><path d="M246.0 846.0 C262.0 858.0 273.0 875.0 273.0 895.0 C273.0 915.0 263.0 935.0 241.0 939.5 C225.0 941.5 212.0 937.0 202.0 931.0" fill="none" stroke="#5e5b56" stroke-width="5.2"/><path d="M243.3 851.0 C257.0 862.7 266.0 878.3 266.0 896.0 C266.0 914.0 258.0 931.7 239.3 936.7 C226.0 938.3 214.3 934.3 205.3 928.7" fill="none" stroke="#5e5b56" stroke-width="5.2"/><path d="M240.7 856.0 C252.0 867.3 259.0 881.7 259.0 897.0 C259.0 913.0 253.0 928.3 237.7 933.8 C227.0 935.2 216.7 931.7 208.7 926.3" fill="none" stroke="#5e5b56" stroke-width="5.2"/><path d="M238.0 861.0 C247.0 872.0 252.0 885.0 252.0 898.0 C252.0 912.0 248.0 925.0 236.0 931.0 C228.0 932.0 219.0 929.0 212.0 924.0" fill="none" stroke="#5e5b56" stroke-width="5.2"/><path d="M246.0 846.0 C262.0 858.0 273.0 875.0 273.0 895.0 C273.0 915.0 263.0 935.0 241.0 939.5 C225.0 941.5 212.0 937.0 202.0 931.0" fill="none" stroke="#aaa69e" stroke-width="3.4"/><path d="M243.3 851.0 C257.0 862.7 266.0 878.3 266.0 896.0 C266.0 914.0 258.0 931.7 239.3 936.7 C226.0 938.3 214.3 934.3 205.3 928.7" fill="none" stroke="#aaa69e" stroke-width="3.4"/><path d="M240.7 856.0 C252.0 867.3 259.0 881.7 259.0 897.0 C259.0 913.0 253.0 928.3 237.7 933.8 C227.0 935.2 216.7 931.7 208.7 926.3" fill="none" stroke="#aaa69e" stroke-width="3.4"/><path d="M238.0 861.0 C247.0 872.0 252.0 885.0 252.0 898.0 C252.0 912.0 248.0 925.0 236.0 931.0 C228.0 932.0 219.0 929.0 212.0 924.0" fill="none" stroke="#aaa69e" stroke-width="3.4"/><path d="M170.2 873.8 L221.5 887.7 L214.6 925.7 C212 929 207 931 201.9 930.3 L184.6 922.3 C178 915 174 910 173 905Z" fill="#303030"/><ellipse cx="198.4" cy="900.3" rx="15" ry="21.9" transform="rotate(-10 198.4 900.3)" fill="#bcbcbc"/><circle cx="240" cy="908.4" r="3.8" fill="#6d6a64"/><path d="M161.5 892.3 C156 880 153 868 157 858 C161 849 170 845 177 848 C182 851 183 856 182.3 861.1" fill="none" stroke="#8a867e" stroke-width="3.6" stroke-linecap="round"/>
<line x1="129.3" y1="94.6" x2="189.4" y2="154.0" stroke="#111" stroke-width="1.3"/><path d="M189.4 154.0L172.8 142.4L177.6 137.5Z" fill="#fff" fill-opacity="0.6" stroke="#111" stroke-width="1.1" stroke-linejoin="miter"/><path d="M174.0 141.1L189.4 154.0M176.4 138.7L189.4 154.0" stroke="#555" stroke-width="0.7" fill="none"/><line x1="175.2" y1="139.9" x2="189.4" y2="154.0" stroke="#111" stroke-width="1.2"/><path d="M189.4 154.0L183.6 149.9L185.3 148.2Z" fill="#111"/><circle cx="111.5" cy="77" r="24.2" fill="#fff" stroke="#2a2a2a" stroke-width="1.65"/><g fill="none" stroke="#1e1e1e" stroke-width="1.6" stroke-linecap="round" stroke-linejoin="round"><path transform="translate(103.50 71.00) scale(1 1.03)" d="M0.4 2.8C0.5 1.2 1.6 0.3 3 0.3C4.6 0.3 5.6 1.4 5.6 3.2C5.6 5.2 4.2 6.8 0.4 11.7H5.8"/><path transform="translate(113.50 71.00) scale(1 1.03)" d="M0.4 0.3H5.8C5 4 3.9 8 3.2 11.7"/></g><line x1="370.5" y1="92.0" x2="340.4" y2="183.5" stroke="#111" stroke-width="1.3"/><path d="M340.4 183.5L343.4 163.4L349.9 165.6Z" fill="#fff" fill-opacity="0.6" stroke="#111" stroke-width="1.1" stroke-linejoin="miter"/><path d="M345.0 164.0L340.4 183.5M348.3 165.0L340.4 183.5" stroke="#555" stroke-width="0.7" fill="none"/><line x1="346.7" y1="164.5" x2="340.4" y2="183.5" stroke="#111" stroke-width="1.2"/><path d="M340.4 183.5L341.4 176.5L343.7 177.2Z" fill="#111"/><circle cx="378.3" cy="68.3" r="24.2" fill="#fff" stroke="#2a2a2a" stroke-width="1.65"/><g fill="none" stroke="#1e1e1e" stroke-width="1.6" stroke-linecap="round" stroke-linejoin="round"><path transform="translate(370.30 62.30) scale(1 1.03)" d="M0.4 2.8C0.5 1.2 1.6 0.3 3 0.3C4.6 0.3 5.6 1.4 5.6 3.2C5.6 5.2 4.2 6.8 0.4 11.7H5.8"/><path transform="translate(380.30 62.30) scale(1 1.03)" d="M5.4 0.3H1.2L0.7 5.6C1.3 5 2.1 4.7 3 4.7C4.7 4.7 5.7 6 5.7 8.2C5.7 10.4 4.6 11.7 3 11.7C1.8 11.7 0.8 11.1 0.3 10"/></g><line x1="650.1" y1="157.5" x2="587.7" y2="253.3" stroke="#111" stroke-width="1.3"/><path d="M587.7 253.3L595.8 234.7L601.5 238.4Z" fill="#fff" fill-opacity="0.6" stroke="#111" stroke-width="1.1" stroke-linejoin="miter"/><path d="M597.2 235.6L587.7 253.3M600.0 237.5L587.7 253.3" stroke="#555" stroke-width="0.7" fill="none"/><line x1="598.6" y1="236.5" x2="587.7" y2="253.3" stroke="#111" stroke-width="1.2"/><path d="M587.7 253.3L590.5 246.8L592.5 248.1Z" fill="#111"/><circle cx="663.7" cy="136.5" r="24.2" fill="#fff" stroke="#2a2a2a" stroke-width="1.65"/><g fill="none" stroke="#1e1e1e" stroke-width="1.6" stroke-linecap="round" stroke-linejoin="round"><path transform="translate(655.70 130.50) scale(1 1.03)" d="M0.4 2.8C0.5 1.2 1.6 0.3 3 0.3C4.6 0.3 5.6 1.4 5.6 3.2C5.6 5.2 4.2 6.8 0.4 11.7H5.8"/><path transform="translate(665.70 130.50) scale(1 1.03)" d="M3 5.7C1.6 5.7 0.7 4.6 0.7 3C0.7 1.4 1.6 0.3 3 0.3C4.4 0.3 5.3 1.4 5.3 3C5.3 4.6 4.4 5.7 3 5.7C1.4 5.7 0.4 6.9 0.4 8.7C0.4 10.5 1.4 11.7 3 11.7C4.6 11.7 5.6 10.5 5.6 8.7C5.6 6.9 4.6 5.7 3 5.7Z"/></g><line x1="111.4" y1="295.1" x2="207.9" y2="244.4" stroke="#111" stroke-width="1.3"/><path d="M207.9 244.4L191.8 256.7L188.6 250.7Z" fill="#fff" fill-opacity="0.6" stroke="#111" stroke-width="1.1" stroke-linejoin="miter"/><path d="M191.0 255.2L207.9 244.4M189.4 252.2L207.9 244.4" stroke="#555" stroke-width="0.7" fill="none"/><line x1="190.2" y1="253.7" x2="207.9" y2="244.4" stroke="#111" stroke-width="1.2"/><path d="M207.9 244.4L202.3 248.7L201.1 246.6Z" fill="#111"/><circle cx="89.3" cy="306.7" r="24.2" fill="#fff" stroke="#2a2a2a" stroke-width="1.65"/><g fill="none" stroke="#1e1e1e" stroke-width="1.6" stroke-linecap="round" stroke-linejoin="round"><path transform="translate(81.30 300.70) scale(1 1.03)" d="M0.5 1.6C1 0.7 1.9 0.3 3 0.3C4.6 0.3 5.5 1.4 5.5 3.1C5.5 4.8 4.4 5.8 2.6 5.8C4.6 5.8 5.7 7 5.7 8.8C5.7 10.7 4.5 11.7 3 11.7C1.8 11.7 0.9 11.2 0.3 10.2"/><path transform="translate(91.30 300.70) scale(1 1.03)" d="M0.4 2.8C0.5 1.2 1.6 0.3 3 0.3C4.6 0.3 5.6 1.4 5.6 3.2C5.6 5.2 4.2 6.8 0.4 11.7H5.8"/></g><line x1="140.5" y1="398.5" x2="215.0" y2="316.3" stroke="#111" stroke-width="1.3"/><path d="M215.0 316.3L204.1 333.4L199.0 328.8Z" fill="#fff" fill-opacity="0.6" stroke="#111" stroke-width="1.1" stroke-linejoin="miter"/><path d="M202.8 332.3L215.0 316.3M200.3 330.0L215.0 316.3" stroke="#555" stroke-width="0.7" fill="none"/><line x1="201.6" y1="331.1" x2="215.0" y2="316.3" stroke="#111" stroke-width="1.2"/><path d="M215.0 316.3L211.2 322.3L209.4 320.7Z" fill="#111"/><circle cx="123.7" cy="417" r="24.2" fill="#fff" stroke="#2a2a2a" stroke-width="1.65"/><g fill="none" stroke="#1e1e1e" stroke-width="1.6" stroke-linecap="round" stroke-linejoin="round"><path transform="translate(116.70 411.00) scale(1 1.03)" d="M0.5 1.6C1 0.7 1.9 0.3 3 0.3C4.6 0.3 5.5 1.4 5.5 3.1C5.5 4.8 4.4 5.8 2.6 5.8C4.6 5.8 5.7 7 5.7 8.8C5.7 10.7 4.5 11.7 3 11.7C1.8 11.7 0.9 11.2 0.3 10.2"/><path transform="translate(126.70 411.00) scale(1 1.03)" d="M2 0.3V11.7"/></g><line x1="465.6" y1="458.1" x2="371.2" y2="425.6" stroke="#111" stroke-width="1.3"/><path d="M371.2 425.6L391.2 428.9L389.0 435.3Z" fill="#fff" fill-opacity="0.6" stroke="#111" stroke-width="1.1" stroke-linejoin="miter"/><path d="M390.7 430.5L371.2 425.6M389.6 433.7L371.2 425.6" stroke="#555" stroke-width="0.7" fill="none"/><line x1="390.1" y1="432.1" x2="371.2" y2="425.6" stroke="#111" stroke-width="1.2"/><path d="M371.2 425.6L378.2 426.7L377.4 429.0Z" fill="#111"/><circle cx="489.2" cy="466.2" r="24.2" fill="#fff" stroke="#2a2a2a" stroke-width="1.65"/><g fill="none" stroke="#1e1e1e" stroke-width="1.6" stroke-linecap="round" stroke-linejoin="round"><path transform="translate(481.20 460.20) scale(1 1.03)" d="M0.5 1.6C1 0.7 1.9 0.3 3 0.3C4.6 0.3 5.5 1.4 5.5 3.1C5.5 4.8 4.4 5.8 2.6 5.8C4.6 5.8 5.7 7 5.7 8.8C5.7 10.7 4.5 11.7 3 11.7C1.8 11.7 0.9 11.2 0.3 10.2"/><path transform="translate(491.20 460.20) scale(1 1.03)" d="M3 0.4C4.6 0.4 5.6 2.8 5.6 6C5.6 9.2 4.6 11.6 3 11.6C1.4 11.6 0.4 9.2 0.4 6C0.4 2.8 1.4 0.4 3 0.4Z"/></g><line x1="73.9" y1="760.5" x2="102.5" y2="811.2" stroke="#111" stroke-width="1.3"/><path d="M102.5 811.2L89.7 795.5L95.6 792.1Z" fill="#fff" fill-opacity="0.6" stroke="#111" stroke-width="1.1" stroke-linejoin="miter"/><path d="M91.2 794.6L102.5 811.2M94.2 792.9L102.5 811.2" stroke="#555" stroke-width="0.7" fill="none"/><line x1="92.7" y1="793.8" x2="102.5" y2="811.2" stroke="#111" stroke-width="1.2"/><path d="M102.5 811.2L98.0 805.7L100.1 804.5Z" fill="#111"/><circle cx="61.6" cy="738.7" r="24.2" fill="#fff" stroke="#2a2a2a" stroke-width="1.65"/><g fill="none" stroke="#1e1e1e" stroke-width="1.6" stroke-linecap="round" stroke-linejoin="round"><path transform="translate(55.40 732.70) scale(1 1.03)" d="M2 0.3V11.7"/><path transform="translate(63.40 732.70) scale(1 1.03)" d="M3 0.4C4.6 0.4 5.6 2.8 5.6 6C5.6 9.2 4.6 11.6 3 11.6C1.4 11.6 0.4 9.2 0.4 6C0.4 2.8 1.4 0.4 3 0.4Z"/></g><line x1="530.4" y1="717.6" x2="416.9" y2="912.6" stroke="#111" stroke-width="1.3"/><path d="M416.9 912.6L424.0 893.6L429.9 897.0Z" fill="#fff" fill-opacity="0.6" stroke="#111" stroke-width="1.1" stroke-linejoin="miter"/><path d="M425.5 894.5L416.9 912.6M428.4 896.2L416.9 912.6" stroke="#555" stroke-width="0.7" fill="none"/><line x1="427.0" y1="895.3" x2="416.9" y2="912.6" stroke="#111" stroke-width="1.2"/><path d="M416.9 912.6L419.4 905.9L421.5 907.2Z" fill="#111"/><circle cx="543" cy="696" r="24.2" fill="#fff" stroke="#2a2a2a" stroke-width="1.65"/><g fill="none" stroke="#1e1e1e" stroke-width="1.6" stroke-linecap="round" stroke-linejoin="round"><path transform="translate(537.80 690.00) scale(1 1.03)" d="M2 0.3V11.7"/><path transform="translate(545.80 690.00) scale(1 1.03)" d="M2 0.3V11.7"/></g><line x1="545.8" y1="819.2" x2="486.4" y2="925.9" stroke="#111" stroke-width="1.3"/><path d="M486.4 925.9L493.2 906.8L499.1 910.1Z" fill="#fff" fill-opacity="0.6" stroke="#111" stroke-width="1.1" stroke-linejoin="miter"/><path d="M494.6 907.6L486.4 925.9M497.6 909.3L486.4 925.9" stroke="#555" stroke-width="0.7" fill="none"/><line x1="496.1" y1="908.4" x2="486.4" y2="925.9" stroke="#111" stroke-width="1.2"/><path d="M486.4 925.9L488.8 919.2L490.9 920.4Z" fill="#111"/><circle cx="558" cy="797.4" r="24.2" fill="#fff" stroke="#2a2a2a" stroke-width="1.65"/><g fill="none" stroke="#1e1e1e" stroke-width="1.6" stroke-linecap="round" stroke-linejoin="round"><path transform="translate(551.80 791.40) scale(1 1.03)" d="M2 0.3V11.7"/><path transform="translate(559.80 791.40) scale(1 1.03)" d="M0.4 2.8C0.5 1.2 1.6 0.3 3 0.3C4.6 0.3 5.6 1.4 5.6 3.2C5.6 5.2 4.2 6.8 0.4 11.7H5.8"/></g><line x1="644.7" y1="790.7" x2="527.7" y2="933.3" stroke="#111" stroke-width="1.3"/><path d="M527.7 933.3L537.8 915.7L543.0 920.0Z" fill="#fff" fill-opacity="0.6" stroke="#111" stroke-width="1.1" stroke-linejoin="miter"/><path d="M539.1 916.8L527.7 933.3M541.7 918.9L527.7 933.3" stroke="#555" stroke-width="0.7" fill="none"/><line x1="540.4" y1="917.8" x2="527.7" y2="933.3" stroke="#111" stroke-width="1.2"/><path d="M527.7 933.3L531.2 927.1L533.1 928.7Z" fill="#111"/><circle cx="660.6" cy="771.4" r="24.2" fill="#fff" stroke="#2a2a2a" stroke-width="1.65"/><g fill="none" stroke="#1e1e1e" stroke-width="1.6" stroke-linecap="round" stroke-linejoin="round"><path transform="translate(654.40 765.40) scale(1 1.03)" d="M2 0.3V11.7"/><path transform="translate(662.40 765.40) scale(1 1.03)" d="M0.5 1.6C1 0.7 1.9 0.3 3 0.3C4.6 0.3 5.5 1.4 5.5 3.1C5.5 4.8 4.4 5.8 2.6 5.8C4.6 5.8 5.7 7 5.7 8.8C5.7 10.7 4.5 11.7 3 11.7C1.8 11.7 0.9 11.2 0.3 10.2"/></g><line x1="684.8" y1="874.0" x2="626.7" y2="942.1" stroke="#111" stroke-width="1.3"/><path d="M626.7 942.1L637.1 924.7L642.3 929.1Z" fill="#fff" fill-opacity="0.6" stroke="#111" stroke-width="1.1" stroke-linejoin="miter"/><path d="M638.4 925.8L626.7 942.1M641.0 928.0L626.7 942.1" stroke="#555" stroke-width="0.7" fill="none"/><line x1="639.7" y1="926.9" x2="626.7" y2="942.1" stroke="#111" stroke-width="1.2"/><path d="M626.7 942.1L630.3 936.0L632.2 937.6Z" fill="#111"/><circle cx="701" cy="855" r="24.2" fill="#fff" stroke="#2a2a2a" stroke-width="1.65"/><g fill="none" stroke="#1e1e1e" stroke-width="1.6" stroke-linecap="round" stroke-linejoin="round"><path transform="translate(694.80 849.00) scale(1 1.03)" d="M2 0.3V11.7"/><path transform="translate(702.80 849.00) scale(1 1.03)" d="M4.4 11.7V0.3L0.3 8.4H5.9"/></g><line x1="693.4" y1="1050.2" x2="652.6" y2="991.9" stroke="#111" stroke-width="1.3"/><path d="M652.6 991.9L666.8 1006.3L661.3 1010.2Z" fill="#fff" fill-opacity="0.6" stroke="#111" stroke-width="1.1" stroke-linejoin="miter"/><path d="M665.5 1007.3L652.6 991.9M662.7 1009.3L652.6 991.9" stroke="#555" stroke-width="0.7" fill="none"/><line x1="664.1" y1="1008.3" x2="652.6" y2="991.9" stroke="#111" stroke-width="1.2"/><path d="M652.6 991.9L657.6 996.9L655.6 998.3Z" fill="#111"/><circle cx="707.7" cy="1070.7" r="24.2" fill="#fff" stroke="#2a2a2a" stroke-width="1.65"/><g fill="none" stroke="#1e1e1e" stroke-width="1.6" stroke-linecap="round" stroke-linejoin="round"><path transform="translate(701.50 1064.70) scale(1 1.03)" d="M2 0.3V11.7"/><path transform="translate(709.50 1064.70) scale(1 1.03)" d="M5.4 0.3H1.2L0.7 5.6C1.3 5 2.1 4.7 3 4.7C4.7 4.7 5.7 6 5.7 8.2C5.7 10.4 4.6 11.7 3 11.7C1.8 11.7 0.8 11.1 0.3 10"/></g><line x1="260.7" y1="1100.5" x2="372.8" y2="1036.0" stroke="#111" stroke-width="1.3"/><path d="M372.8 1036.0L357.2 1048.9L353.8 1043.0Z" fill="#fff" fill-opacity="0.6" stroke="#111" stroke-width="1.1" stroke-linejoin="miter"/><path d="M356.3 1047.4L372.8 1036.0M354.6 1044.5L372.8 1036.0" stroke="#555" stroke-width="0.7" fill="none"/><line x1="355.5" y1="1046.0" x2="372.8" y2="1036.0" stroke="#111" stroke-width="1.2"/><path d="M372.8 1036.0L367.3 1040.5L366.1 1038.5Z" fill="#111"/><circle cx="239" cy="1113" r="24.2" fill="#fff" stroke="#2a2a2a" stroke-width="1.65"/><g fill="none" stroke="#1e1e1e" stroke-width="1.6" stroke-linecap="round" stroke-linejoin="round"><path transform="translate(232.80 1107.00) scale(1 1.03)" d="M2 0.3V11.7"/><path transform="translate(240.80 1107.00) scale(1 1.03)" d="M5 1.2C4.5 0.6 3.8 0.3 3 0.3C1.3 0.3 0.4 2.6 0.4 6.5C0.4 9.9 1.4 11.7 3 11.7C4.6 11.7 5.6 10.3 5.6 8.4C5.6 6.4 4.6 5.2 3.1 5.2C1.8 5.2 0.8 6 0.4 7.3"/></g><line x1="115.4" y1="1084.8" x2="384.0" y2="984.1" stroke="#111" stroke-width="1.3"/><path d="M384.0 984.1L366.5 994.3L364.1 987.9Z" fill="#fff" fill-opacity="0.6" stroke="#111" stroke-width="1.1" stroke-linejoin="miter"/><path d="M365.9 992.7L384.0 984.1M364.7 989.5L384.0 984.1" stroke="#555" stroke-width="0.7" fill="none"/><line x1="365.3" y1="991.1" x2="384.0" y2="984.1" stroke="#111" stroke-width="1.2"/><path d="M384.0 984.1L377.9 987.7L377.0 985.4Z" fill="#111"/><circle cx="92" cy="1093.6" r="24.2" fill="#fff" stroke="#2a2a2a" stroke-width="1.65"/><g fill="none" stroke="#1e1e1e" stroke-width="1.6" stroke-linecap="round" stroke-linejoin="round"><path transform="translate(85.80 1087.60) scale(1 1.03)" d="M2 0.3V11.7"/><path transform="translate(93.80 1087.60) scale(1 1.03)" d="M0.4 0.3H5.8C5 4 3.9 8 3.2 11.7"/></g><line x1="94.3" y1="996.3" x2="209.8" y2="996.3" stroke="#111" stroke-width="1.3"/><path d="M209.8 996.3L189.8 999.7L189.8 992.9Z" fill="#fff" fill-opacity="0.6" stroke="#111" stroke-width="1.1" stroke-linejoin="miter"/><path d="M189.8 998.0L209.8 996.3M189.8 994.6L209.8 996.3" stroke="#555" stroke-width="0.7" fill="none"/><line x1="189.8" y1="996.3" x2="209.8" y2="996.3" stroke="#111" stroke-width="1.2"/><path d="M209.8 996.3L202.8 997.5L202.8 995.1Z" fill="#111"/><circle cx="69.3" cy="996.3" r="24.2" fill="#fff" stroke="#2a2a2a" stroke-width="1.65"/><g fill="none" stroke="#1e1e1e" stroke-width="1.6" stroke-linecap="round" stroke-linejoin="round"><path transform="translate(63.10 990.30) scale(1 1.03)" d="M2 0.3V11.7"/><path transform="translate(71.10 990.30) scale(1 1.03)" d="M3 5.7C1.6 5.7 0.7 4.6 0.7 3C0.7 1.4 1.6 0.3 3 0.3C4.4 0.3 5.3 1.4 5.3 3C5.3 4.6 4.4 5.7 3 5.7C1.4 5.7 0.4 6.9 0.4 8.7C0.4 10.5 1.4 11.7 3 11.7C4.6 11.7 5.6 10.5 5.6 8.7C5.6 6.9 4.6 5.7 3 5.7Z"/></g><line x1="1048.4" y1="394.4" x2="955.0" y2="435.9" stroke="#111" stroke-width="1.3"/><path d="M955.0 435.9L971.9 424.7L974.7 430.9Z" fill="#fff" fill-opacity="0.6" stroke="#111" stroke-width="1.1" stroke-linejoin="miter"/><path d="M972.6 426.2L955.0 435.9M974.0 429.3L955.0 435.9" stroke="#555" stroke-width="0.7" fill="none"/><line x1="973.3" y1="427.8" x2="955.0" y2="435.9" stroke="#111" stroke-width="1.2"/><path d="M955.0 435.9L960.9 432.0L961.9 434.2Z" fill="#111"/><circle cx="1071.3" cy="384.3" r="24.2" fill="#fff" stroke="#2a2a2a" stroke-width="1.65"/><g fill="none" stroke="#1e1e1e" stroke-width="1.6" stroke-linecap="round" stroke-linejoin="round"><path transform="translate(1065.10 378.30) scale(1 1.03)" d="M2 0.3V11.7"/><path transform="translate(1073.10 378.30) scale(1 1.03)" d="M5.6 5.5C5.2 6.5 4.3 7 3 7C1.4 7 0.4 5.6 0.4 3.6C0.4 1.6 1.4 0.3 3 0.3C4.7 0.3 5.6 1.8 5.6 5C5.6 9.3 4.6 11.7 2.9 11.7C2 11.7 1.3 11.3 0.8 10.6"/></g><line x1="1051.6" y1="742.5" x2="929.1" y2="825.9" stroke="#111" stroke-width="1.3"/><path d="M929.1 825.9L943.7 811.8L947.5 817.5Z" fill="#fff" fill-opacity="0.6" stroke="#111" stroke-width="1.1" stroke-linejoin="miter"/><path d="M944.7 813.2L929.1 825.9M946.6 816.0L929.1 825.9" stroke="#555" stroke-width="0.7" fill="none"/><line x1="945.6" y1="814.6" x2="929.1" y2="825.9" stroke="#111" stroke-width="1.2"/><path d="M929.1 825.9L934.2 821.0L935.6 823.0Z" fill="#111"/><circle cx="1072.3" cy="728.4" r="24.2" fill="#fff" stroke="#2a2a2a" stroke-width="1.65"/><g fill="none" stroke="#1e1e1e" stroke-width="1.6" stroke-linecap="round" stroke-linejoin="round"><path transform="translate(1064.30 722.40) scale(1 1.03)" d="M0.4 2.8C0.5 1.2 1.6 0.3 3 0.3C4.6 0.3 5.6 1.4 5.6 3.2C5.6 5.2 4.2 6.8 0.4 11.7H5.8"/><path transform="translate(1074.30 722.40) scale(1 1.03)" d="M3 0.4C4.6 0.4 5.6 2.8 5.6 6C5.6 9.2 4.6 11.6 3 11.6C1.4 11.6 0.4 9.2 0.4 6C0.4 2.8 1.4 0.4 3 0.4Z"/></g><line x1="1053.9" y1="841.5" x2="937.9" y2="924.6" stroke="#111" stroke-width="1.3"/><path d="M937.9 924.6L952.2 910.2L956.1 915.7Z" fill="#fff" fill-opacity="0.6" stroke="#111" stroke-width="1.1" stroke-linejoin="miter"/><path d="M953.2 911.6L937.9 924.6M955.1 914.3L937.9 924.6" stroke="#555" stroke-width="0.7" fill="none"/><line x1="954.2" y1="912.9" x2="937.9" y2="924.6" stroke="#111" stroke-width="1.2"/><path d="M937.9 924.6L942.9 919.5L944.3 921.5Z" fill="#111"/><circle cx="1074.2" cy="826.9" r="24.2" fill="#fff" stroke="#2a2a2a" stroke-width="1.65"/><g fill="none" stroke="#1e1e1e" stroke-width="1.6" stroke-linecap="round" stroke-linejoin="round"><path transform="translate(1067.20 820.90) scale(1 1.03)" d="M0.4 2.8C0.5 1.2 1.6 0.3 3 0.3C4.6 0.3 5.6 1.4 5.6 3.2C5.6 5.2 4.2 6.8 0.4 11.7H5.8"/><path transform="translate(1077.20 820.90) scale(1 1.03)" d="M2 0.3V11.7"/></g><line x1="1052.1" y1="916.1" x2="950.0" y2="961.4" stroke="#111" stroke-width="1.3"/><path d="M950.0 961.4L966.9 950.2L969.7 956.4Z" fill="#fff" fill-opacity="0.6" stroke="#111" stroke-width="1.1" stroke-linejoin="miter"/><path d="M967.6 951.7L950.0 961.4M969.0 954.9L950.0 961.4" stroke="#555" stroke-width="0.7" fill="none"/><line x1="968.3" y1="953.3" x2="950.0" y2="961.4" stroke="#111" stroke-width="1.2"/><path d="M950.0 961.4L955.9 957.5L956.9 959.7Z" fill="#111"/><circle cx="1075" cy="906" r="24.2" fill="#fff" stroke="#2a2a2a" stroke-width="1.65"/><g fill="none" stroke="#1e1e1e" stroke-width="1.6" stroke-linecap="round" stroke-linejoin="round"><path transform="translate(1067.00 900.00) scale(1 1.03)" d="M0.4 2.8C0.5 1.2 1.6 0.3 3 0.3C4.6 0.3 5.6 1.4 5.6 3.2C5.6 5.2 4.2 6.8 0.4 11.7H5.8"/><path transform="translate(1077.00 900.00) scale(1 1.03)" d="M0.4 2.8C0.5 1.2 1.6 0.3 3 0.3C4.6 0.3 5.6 1.4 5.6 3.2C5.6 5.2 4.2 6.8 0.4 11.7H5.8"/></g><line x1="1052.1" y1="990.7" x2="945.6" y2="1019.6" stroke="#111" stroke-width="1.3"/><path d="M945.6 1019.6L964.0 1011.1L965.8 1017.6Z" fill="#fff" fill-opacity="0.6" stroke="#111" stroke-width="1.1" stroke-linejoin="miter"/><path d="M964.5 1012.7L945.6 1019.6M965.3 1016.0L945.6 1019.6" stroke="#555" stroke-width="0.7" fill="none"/><line x1="964.9" y1="1014.4" x2="945.6" y2="1019.6" stroke="#111" stroke-width="1.2"/><path d="M945.6 1019.6L952.0 1016.6L952.7 1018.9Z" fill="#111"/><circle cx="1076.2" cy="984.2" r="24.2" fill="#fff" stroke="#2a2a2a" stroke-width="1.65"/><g fill="none" stroke="#1e1e1e" stroke-width="1.6" stroke-linecap="round" stroke-linejoin="round"><path transform="translate(1068.20 978.20) scale(1 1.03)" d="M0.4 2.8C0.5 1.2 1.6 0.3 3 0.3C4.6 0.3 5.6 1.4 5.6 3.2C5.6 5.2 4.2 6.8 0.4 11.7H5.8"/><path transform="translate(1078.20 978.20) scale(1 1.03)" d="M0.5 1.6C1 0.7 1.9 0.3 3 0.3C4.6 0.3 5.5 1.4 5.5 3.1C5.5 4.8 4.4 5.8 2.6 5.8C4.6 5.8 5.7 7 5.7 8.8C5.7 10.7 4.5 11.7 3 11.7C1.8 11.7 0.9 11.2 0.3 10.2"/></g><line x1="1050.9" y1="1081.0" x2="924.7" y2="1109.5" stroke="#111" stroke-width="1.3"/><path d="M924.7 1109.5L943.5 1101.8L945.0 1108.4Z" fill="#fff" fill-opacity="0.6" stroke="#111" stroke-width="1.1" stroke-linejoin="miter"/><path d="M943.8 1103.4L924.7 1109.5M944.6 1106.8L924.7 1109.5" stroke="#555" stroke-width="0.7" fill="none"/><line x1="944.2" y1="1105.1" x2="924.7" y2="1109.5" stroke="#111" stroke-width="1.2"/><path d="M924.7 1109.5L931.3 1106.8L931.8 1109.1Z" fill="#111"/><circle cx="1075.3" cy="1075.5" r="24.2" fill="#fff" stroke="#2a2a2a" stroke-width="1.65"/><g fill="none" stroke="#1e1e1e" stroke-width="1.6" stroke-linecap="round" stroke-linejoin="round"><path transform="translate(1067.30 1069.50) scale(1 1.03)" d="M0.4 2.8C0.5 1.2 1.6 0.3 3 0.3C4.6 0.3 5.6 1.4 5.6 3.2C5.6 5.2 4.2 6.8 0.4 11.7H5.8"/><path transform="translate(1077.30 1069.50) scale(1 1.03)" d="M4.4 11.7V0.3L0.3 8.4H5.9"/></g><circle cx="502.3" cy="87.1" r="30.2" fill="#63cc36"/><line x1="492.6" y1="110.7" x2="436.5" y2="233.0" stroke="#111" stroke-width="1.3"/><path d="M436.5 233.0L441.7 213.4L447.9 216.2Z" fill="#fff" fill-opacity="0.6" stroke="#111" stroke-width="1.1" stroke-linejoin="miter"/><path d="M443.3 214.1L436.5 233.0M446.4 215.5L436.5 233.0" stroke="#555" stroke-width="0.7" fill="none"/><line x1="444.8" y1="214.8" x2="436.5" y2="233.0" stroke="#111" stroke-width="1.2"/><path d="M436.5 233.0L438.3 226.1L440.5 227.1Z" fill="#111"/><circle cx="503" cy="88" r="24.2" fill="none" stroke="#151515" stroke-width="1.45"/><g fill="none" stroke="#1e1e1e" stroke-width="1.6" stroke-linecap="round" stroke-linejoin="round"><path transform="translate(495.00 82.00) scale(1 1.03)" d="M0.4 2.8C0.5 1.2 1.6 0.3 3 0.3C4.6 0.3 5.6 1.4 5.6 3.2C5.6 5.2 4.2 6.8 0.4 11.7H5.8"/><path transform="translate(505.00 82.00) scale(1 1.03)" d="M5.6 5.5C5.2 6.5 4.3 7 3 7C1.4 7 0.4 5.6 0.4 3.6C0.4 1.6 1.4 0.3 3 0.3C4.7 0.3 5.6 1.8 5.6 5C5.6 9.3 4.6 11.7 2.9 11.7C2 11.7 1.3 11.3 0.8 10.6"/></g>
</svg></body></html>
